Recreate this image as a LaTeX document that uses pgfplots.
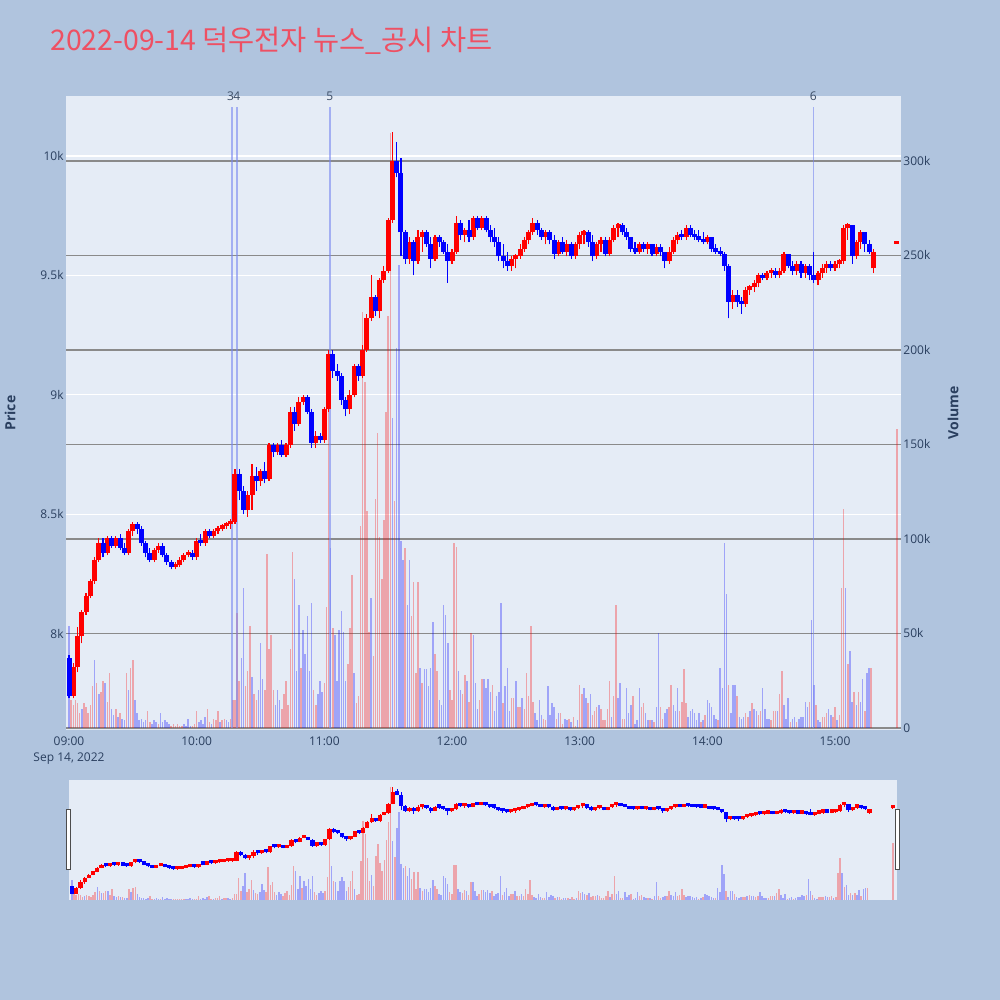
\documentclass[border=0pt]{standalone}
\usepackage{pgfplots}
\pgfplotsset{compat=1.18}
\usepackage{pgfplotstable}
\usepackage{fontspec}
\setmainfont{Open Sans}
\newfontfamily\cjk{Noto Sans CJK KR}
\definecolor{pagebg}{HTML}{B0C4DE}
\definecolor{plotbg}{HTML}{E5ECF6}
\definecolor{tickcol}{HTML}{2A3F5F}
\definecolor{titlecol}{HTML}{EE5063}
\definecolor{upc}{HTML}{FF0000}
\definecolor{dnc}{HTML}{0000FF}
\definecolor{newsc}{RGB}{120,135,240}
\definecolor{vgrid}{HTML}{8A8A8A}

\pgfplotstableread{
t o h l c
0 7900 7910 7730 7740
2 7740 7880 7730 7860
4 7860 8030 7840 7990
6 7990 8100 7960 8090
8 8090 8170 8080 8160
10 8160 8230 8150 8220
12 8220 8320 8210 8310
14 8310 8400 8300 8380
16 8380 8400 8320 8340
18 8340 8410 8330 8400
20 8400 8410 8360 8370
22 8370 8410 8360 8400
24 8400 8420 8350 8360
26 8360 8380 8330 8340
28 8340 8440 8330 8430
30 8430 8470 8410 8460
32 8460 8470 8420 8440
34 8440 8450 8370 8380
36 8380 8390 8320 8340
38 8340 8360 8300 8310
40 8310 8360 8300 8350
42 8350 8380 8340 8370
44 8370 8380 8320 8330
46 8330 8340 8290 8300
48 8300 8310 8270 8280
50 8280 8300 8270 8290
52 8290 8320 8280 8310
54 8310 8340 8300 8330
56 8330 8350 8320 8340
58 8340 8350 8310 8320
60 8320 8400 8310 8390
62 8390 8420 8370 8380
64 8380 8440 8370 8430
66 8430 8440 8400 8410
68 8410 8440 8400 8430
70 8430 8450 8420 8440
72 8440 8460 8430 8450
74 8450 8470 8440 8460
76 8460 8480 8440 8470
78 8470 8690 8460 8670
80 8670 8690 8560 8600
82 8600 8620 8500 8520
84 8520 8600 8490 8580
86 8580 8710 8520 8660
88 8660 8700 8600 8640
90 8640 8690 8620 8680
92 8680 8720 8630 8650
94 8650 8800 8640 8790
96 8790 8800 8740 8760
98 8760 8800 8750 8790
100 8790 8810 8740 8750
102 8750 8800 8740 8790
104 8790 8950 8780 8930
106 8930 8950 8850 8880
108 8880 8990 8870 8970
110 8970 9000 8960 8990
112 8990 9000 8920 8930
114 8930 8940 8780 8800
116 8800 8850 8780 8830
118 8830 8840 8800 8810
120 8810 8950 8800 8940
122 8940 9190 8930 9170
124 9170 9190 9070 9100
126 9100 9130 9060 9080
128 9080 9090 8960 8980
130 8980 8990 8910 8940
132 8940 9020 8920 9000
134 9000 9130 8990 9120
136 9120 9130 9060 9080
138 9080 9210 9070 9190
140 9190 9340 9180 9320
142 9320 9500 9310 9410
144 9410 9420 9330 9350
146 9350 9490 9320 9480
148 9480 9540 9470 9520
150 9520 9740 9510 9730
152 9730 10100 9720 9980
154 9980 10060 9910 9930
156 9930 9990 9580 9680
158 9680 9690 9550 9570
160 9570 9660 9550 9640
162 9640 9650 9500 9560
164 9560 9690 9550 9660
166 9660 9690 9600 9680
168 9680 9690 9620 9630
170 9630 9660 9530 9570
172 9570 9670 9560 9660
174 9660 9670 9620 9640
176 9640 9650 9590 9600
178 9600 9630 9470 9560
180 9560 9610 9550 9600
182 9600 9750 9590 9720
184 9720 9730 9650 9670
186 9670 9700 9640 9690
188 9690 9730 9640 9660
190 9660 9750 9650 9740
192 9740 9750 9690 9700
194 9700 9750 9690 9740
196 9740 9750 9680 9690
198 9690 9710 9640 9660
200 9660 9700 9620 9640
202 9640 9660 9560 9580
204 9580 9630 9530 9560
206 9560 9600 9520 9540
208 9540 9580 9520 9570
210 9570 9590 9530 9580
212 9580 9630 9570 9610
214 9610 9660 9600 9650
216 9650 9690 9630 9680
218 9680 9740 9670 9720
220 9720 9730 9670 9690
222 9690 9700 9650 9660
224 9660 9690 9630 9680
226 9680 9690 9630 9650
228 9650 9670 9570 9590
230 9590 9650 9580 9640
232 9640 9660 9590 9600
234 9600 9650 9580 9630
236 9630 9640 9570 9580
238 9580 9640 9570 9630
240 9630 9680 9610 9670
242 9670 9690 9630 9680
244 9680 9690 9620 9640
246 9640 9670 9560 9580
248 9580 9640 9570 9630
250 9630 9660 9600 9650
252 9650 9660 9580 9590
254 9590 9660 9580 9650
256 9650 9710 9640 9700
258 9700 9720 9660 9710
260 9710 9720 9670 9680
262 9680 9700 9650 9660
264 9660 9660 9600 9610
266 9610 9640 9590 9600
268 9600 9640 9590 9630
270 9630 9640 9600 9610
272 9610 9640 9590 9630
274 9630 9630 9580 9590
276 9590 9630 9580 9620
278 9620 9630 9580 9600
280 9600 9600 9530 9560
282 9560 9620 9550 9600
284 9600 9660 9590 9650
286 9650 9680 9630 9670
288 9670 9690 9650 9660
290 9660 9710 9650 9700
292 9700 9710 9660 9670
294 9670 9690 9650 9660
296 9660 9690 9640 9650
298 9650 9680 9630 9640
300 9640 9670 9630 9660
302 9660 9660 9600 9610
304 9610 9630 9590 9600
306 9600 9620 9580 9590
308 9590 9600 9520 9540
310 9540 9550 9320 9390
312 9390 9440 9360 9420
314 9420 9440 9370 9390
316 9390 9410 9340 9380
318 9380 9450 9370 9440
320 9440 9460 9420 9450
322 9450 9480 9430 9470
324 9470 9510 9450 9500
326 9500 9510 9480 9490
328 9490 9520 9480 9510
330 9510 9530 9490 9520
332 9520 9530 9490 9500
334 9500 9530 9490 9520
336 9520 9600 9510 9590
338 9590 9590 9530 9540
340 9540 9560 9500 9520
342 9520 9560 9500 9550
344 9550 9560 9490 9510
346 9510 9550 9490 9540
348 9540 9550 9480 9500
350 9500 9600 9470 9480
352 9480 9520 9460 9510
354 9510 9550 9490 9530
356 9530 9560 9510 9550
358 9550 9560 9520 9530
360 9530 9560 9520 9550
362 9550 9570 9530 9560
364 9560 9710 9550 9700
366 9700 9720 9650 9710
368 9710 9710 9550 9580
370 9580 9650 9570 9640
372 9640 9690 9610 9680
374 9680 9680 9600 9630
376 9630 9650 9590 9600
378 9530 9610 9510 9600
389 9632 9642 9632 9640
}\candles

\pgfplotstableread[row sep=\\]{t v u\\
0 54 0\\ 1 15 1\\ 2 12 1\\ 3 15 1\\ 4 13 1\\ 5 8 1\\ 6 10 0\\ 7 13 1\\ 8 11 1\\ 9 8 1\\
10 12 1\\ 11 22 1\\ 12 36 0\\ 13 24 1\\ 14 18 0\\ 15 19 1\\ 16 25 1\\ 17 24 0\\ 18 14 1\\ 19 29 1\\
20 10 0\\ 21 7 0\\ 22 10 1\\ 23 6 0\\ 24 8 1\\ 25 5 0\\ 26 4 0\\ 27 29 1\\ 28 20 0\\ 29 32 1\\
30 36 1\\ 31 15 0\\ 32 8 0\\ 33 4 0\\ 34 5 0\\ 35 3 0\\ 36 4 0\\ 37 9 1\\ 38 3 1\\ 39 2 0\\
40 4 0\\ 41 3 0\\ 42 2 1\\ 43 8 0\\ 44 3 0\\ 45 4 0\\ 46 3 0\\ 47 2 0\\ 48 1 1\\ 49 2 1\\
50 1 1\\ 51 2 1\\ 52 1 1\\ 53 1 1\\ 54 2 0\\ 55 1 0\\ 56 5 0\\ 57 1 0\\ 58 1 1\\ 59 2 1\\
60 9 1\\ 61 3 0\\ 62 4 0\\ 63 2 0\\ 64 6 0\\ 65 10 1\\ 66 3 1\\ 67 2 0\\ 68 5 1\\ 69 4 1\\
70 9 1\\ 71 3 0\\ 72 4 1\\ 73 5 1\\ 74 4 0\\ 75 3 0\\ 76 5 1\\ 77 15 1\\ 78 15 1\\ 79 61 1\\
80 25 1\\ 81 37 0\\ 82 74 0\\ 83 22 1\\ 84 30 1\\ 85 54 1\\ 86 27 0\\ 87 18 1\\ 88 15 1\\ 89 20 0\\
90 45 0\\ 91 26 0\\ 92 20 1\\ 93 92 1\\ 94 42 1\\ 95 49 1\\ 96 20 1\\ 97 12 0\\ 98 20 0\\ 99 15 0\\
100 10 1\\ 101 18 1\\ 102 25 1\\ 103 12 1\\ 104 42 1\\ 105 93 1\\ 106 79 0\\ 107 30 0\\ 108 65 0\\ 109 32 1\\
110 52 0\\ 111 39 0\\ 112 59 0\\ 113 30 0\\ 114 66 0\\ 115 20 1\\ 116 12 1\\ 117 18 0\\ 118 25 0\\ 119 19 0\\
120 24 1\\ 121 64 1\\ 122 175 1\\ 123 95 0\\ 124 53 1\\ 125 49 0\\ 126 25 0\\ 127 52 0\\ 128 62 0\\ 129 51 0\\
130 25 0\\ 131 34 1\\ 132 53 1\\ 133 81 1\\ 134 29 0\\ 135 13 1\\ 136 17 1\\ 137 107 1\\ 138 220 1\\ 139 183 1\\
140 115 1\\ 141 51 1\\ 142 69 0\\ 143 38 1\\ 144 121 1\\ 145 156 1\\ 146 101 1\\ 147 79 1\\ 148 110 1\\ 149 167 1\\
150 218 1\\ 151 315 1\\ 152 164 0\\ 153 120 1\\ 154 201 0\\ 155 245 0\\ 156 99 0\\ 157 89 0\\ 158 95 1\\ 159 65 0\\
160 89 0\\ 161 59 1\\ 162 77 1\\ 163 29 1\\ 164 77 1\\ 165 32 0\\ 166 24 1\\ 167 31 0\\ 168 31 0\\ 169 22 0\\
170 32 0\\ 171 56 0\\ 172 39 1\\ 173 30 1\\ 174 15 0\\ 175 12 0\\ 176 65 0\\ 177 60 0\\ 178 45 0\\ 179 20 1\\
180 15 1\\ 181 98 1\\ 182 96 1\\ 183 30 0\\ 184 20 0\\ 185 18 1\\ 186 28 1\\ 187 25 0\\ 188 14 1\\ 189 50 1\\
190 49 0\\ 191 24 0\\ 192 10 0\\ 193 15 1\\ 194 26 1\\ 195 26 0\\ 196 21 0\\ 197 26 0\\ 198 19 0\\ 199 23 1\\
200 9 0\\ 201 17 0\\ 202 19 0\\ 203 66 0\\ 204 13 1\\ 205 22 0\\ 206 32 0\\ 207 9 0\\ 208 16 1\\ 209 16 1\\
210 25 0\\ 211 11 1\\ 212 11 1\\ 213 16 0\\ 214 10 1\\ 215 29 1\\ 216 17 1\\ 217 54 1\\ 218 14 1\\ 219 8 0\\
220 4 0\\ 221 15 0\\ 222 7 0\\ 223 5 1\\ 224 4 1\\ 225 22 0\\ 226 7 0\\ 227 13 0\\ 228 11 0\\ 229 5 1\\
230 8 0\\ 231 8 1\\ 232 2 1\\ 233 5 0\\ 234 4 0\\ 235 5 1\\ 236 3 0\\ 237 6 1\\ 238 1 1\\ 239 4 0\\
240 23 1\\ 241 18 1\\ 242 21 0\\ 243 16 0\\ 244 13 1\\ 245 18 0\\ 246 7 1\\ 247 9 1\\ 248 11 1\\ 249 12 0\\
250 10 1\\ 251 4 1\\ 252 4 1\\ 253 10 1\\ 254 25 1\\ 255 6 0\\ 256 17 1\\ 257 65 1\\ 258 16 0\\ 259 24 0\\
260 5 1\\ 261 5 1\\ 262 21 0\\ 263 8 0\\ 264 12 0\\ 265 17 1\\ 266 2 0\\ 267 4 0\\ 268 21 0\\ 269 11 1\\
270 13 1\\ 271 8 0\\ 272 4 0\\ 273 4 1\\ 274 4 0\\ 275 3 1\\ 276 11 0\\ 277 50 0\\ 278 11 1\\ 279 5 1\\
280 8 0\\ 281 10 0\\ 282 11 1\\ 283 23 1\\ 284 12 0\\ 285 9 0\\ 286 21 0\\ 287 9 1\\ 288 14 1\\ 289 31 1\\
290 13 1\\ 291 6 0\\ 292 9 0\\ 293 10 0\\ 294 8 0\\ 295 4 0\\ 296 8 0\\ 297 3 1\\ 298 4 0\\ 299 7 1\\
300 15 0\\ 301 13 0\\ 302 11 0\\ 303 7 0\\ 304 5 0\\ 305 4 1\\ 306 32 0\\ 307 21 0\\ 308 98 0\\ 309 71 0\\
310 23 1\\ 311 8 0\\ 312 23 0\\ 313 23 0\\ 314 17 1\\ 315 6 0\\ 316 5 0\\ 317 6 0\\ 318 8 1\\ 319 6 1\\
320 9 0\\ 321 13 1\\ 322 10 0\\ 323 9 0\\ 324 7 1\\ 325 9 1\\ 326 21 0\\ 327 10 0\\ 328 5 0\\ 329 5 0\\
330 4 1\\ 331 9 1\\ 332 9 1\\ 333 9 0\\ 334 18 1\\ 335 30 1\\ 336 12 0\\ 337 5 0\\ 338 16 0\\ 339 3 1\\
340 5 0\\ 341 6 0\\ 342 3 1\\ 343 5 0\\ 344 6 0\\ 345 6 0\\ 346 14 0\\ 347 11 0\\ 348 14 1\\ 349 57 0\\
350 23 0\\ 351 12 1\\ 352 4 0\\ 353 3 0\\ 354 6 1\\ 355 6 1\\ 356 8 1\\ 357 10 0\\ 358 7 0\\ 359 6 1\\
360 11 1\\ 361 4 0\\ 362 7 1\\ 363 74 1\\ 364 116 1\\ 365 74 0\\ 366 34 1\\ 367 41 0\\ 368 14 0\\ 369 19 1\\
370 12 0\\ 371 19 1\\ 372 14 0\\ 373 26 0\\ 374 9 1\\ 375 29 0\\ 376 32 0\\ 377 32 1\\ 389 158 1\\
}\vols

\newcommand{\bodyw}{2.5pt}
\newcommand{\wickw}{0.55pt}
\newcommand{\minbody}{14}
\newcommand{\tickfont}{\fontsize{6}{8}\selectfont}
\pgfplotsset{
  candlebody/.style 2 args={only marks, mark=*, mark size=0pt, mark options={draw=none, fill=none}, #1,
    restrict expr to domain={\thisrow{c}-\thisrow{o}}{#2},
    error bars/.cd, y dir=plus, y explicit, error mark=none,
    error bar style={line width=\bodyw, #1}},
  candlewick/.style 2 args={only marks, mark=*, mark size=0pt, mark options={draw=none, fill=none}, #1,
    restrict expr to domain={\thisrow{c}-\thisrow{o}}{#2},
    error bars/.cd, y dir=plus, y explicit, error mark=none,
    error bar style={line width=\wickw, #1}},
  volbar/.style 2 args={ycomb, mark=none, line width=0.75pt, #1, opacity=0.3,
    restrict expr to domain={\thisrow{u}}{#2}},
}

\begin{document}
\begin{tikzpicture}
\fill[pagebg] (0pt,0pt) rectangle (500pt,500pt);
\useasboundingbox (0pt,0pt) rectangle (500pt,500pt);

% ---------- main: background and price grid ----------
\begin{axis}[at={(33pt,135pt)}, anchor=south west, scale only axis,
  width=417.5pt, height=317pt,
  xmin=-1.41, xmax=391, ymin=7598, ymax=10251,
  scaled ticks=false,
  axis line style={draw=none}, major tick length=0pt,
  axis background/.style={fill=plotbg},
  ymajorgrids, major grid style={white, line width=0.55pt},
  ytick={8000,8500,9000,9500,10000}, yticklabels={8k,8.5k,9k,9.5k,10k},
  xtick={0,60,120,180,240,300,360},
  xticklabels={{09:00\\Sep 14, 2022},10:00,11:00,12:00,13:00,14:00,15:00},
  tick label style={font=\tickfont, text=tickcol},
  xticklabel style={align=center, inner sep=1pt, yshift=-2pt},
  yticklabel style={inner xsep=1pt},
  ylabel={Price},
  every axis y label/.style={at={(axis description cs:-0.067,0.5)}, rotate=90, anchor=center,
    font=\fontsize{7}{8}\selectfont\bfseries, text=tickcol},
]
\end{axis}

% ---------- main: volume ----------
\begin{axis}[at={(33pt,135pt)}, anchor=south west, scale only axis,
  width=417.5pt, height=317pt,
  xmin=-1.41, xmax=391, ymin=-1.06, ymax=334.4,
  scaled ticks=false,
  axis line style={draw=none}, major tick length=0pt,
  xtick=\empty,
  ymajorgrids, major grid style={vgrid, line width=0.7pt},
  ytick={0,50,100,150,200,250,300}, yticklabels={0,50k,100k,150k,200k,250k,300k},
  yticklabel pos=right,
  tick label style={font=\tickfont, text=tickcol},
  yticklabel style={inner xsep=1pt},
  ylabel={Volume},
  every axis y label/.style={at={(axis description cs:1.0623,0.5)}, rotate=90, anchor=center,
    font=\fontsize{7}{8}\selectfont\bfseries, text=tickcol},
]
\addplot[volbar={upc}{0.5:1.5}] table[x=t, y=v] {\vols};
\addplot[volbar={dnc}{-0.5:0.5}] table[x=t, y=v] {\vols};
\end{axis}

% ---------- main: candles and news ----------
\begin{axis}[at={(33pt,135pt)}, anchor=south west, scale only axis,
  width=417.5pt, height=317pt,
  xmin=-1.41, xmax=391, ymin=7598, ymax=10251,
  hide axis, clip=false]
\addplot[newsc, line width=0.8pt, opacity=0.6] coordinates {(76.46,7607) (76.46,10205)};
\addplot[newsc, line width=0.8pt, opacity=0.6] coordinates {(78.81,7607) (78.81,10205)};
\addplot[newsc, line width=0.8pt, opacity=0.6] coordinates {(122.52,7607) (122.52,10205)};
\addplot[newsc, line width=0.8pt, opacity=0.6] coordinates {(349.8,7607) (349.8,10205)};
\addplot[candlewick={upc}{0:100000}] table[x=t, y=l, y error expr={\thisrow{h}-\thisrow{l}}] {\candles};
\addplot[candlewick={dnc}{-100000:-0.5}] table[x=t, y=l, y error expr={\thisrow{h}-\thisrow{l}}] {\candles};
\addplot[candlebody={upc}{0:100000}] table[x=t, y expr={min(\thisrow{o},\thisrow{c})}, y error expr={max(abs(\thisrow{c}-\thisrow{o}),\minbody)}] {\candles};
\addplot[candlebody={dnc}{-100000:-0.5}] table[x=t, y expr={min(\thisrow{o},\thisrow{c})}, y error expr={max(abs(\thisrow{c}-\thisrow{o}),\minbody)}] {\candles};
\node[font=\tickfont, text=tickcol!80!gray, anchor=center, inner sep=0pt] at (axis cs:75.9,10251) {3};
\node[font=\tickfont, text=tickcol!80!gray, anchor=center, inner sep=0pt] at (axis cs:78.9,10251) {4};
\node[font=\tickfont, text=tickcol!80!gray, anchor=center, inner sep=0pt] at (axis cs:122.52,10251) {5};
\node[font=\tickfont, text=tickcol!80!gray, anchor=center, inner sep=0pt] at (axis cs:349.8,10251) {6};
\end{axis}

% ---------- range slider ----------
\renewcommand{\bodyw}{2.1pt}
\renewcommand{\wickw}{0.4pt}
\renewcommand{\minbody}{70}
\begin{axis}[at={(34.5pt,50pt)}, anchor=south west, scale only axis,
  width=414pt, height=60pt,
  xmin=-1.41, xmax=391, ymin=-1.06, ymax=334.4,
  axis line style={draw=none}, xtick=\empty, ytick=\empty,
  axis background/.style={fill=plotbg}]
\addplot[volbar={upc}{0.5:1.5}] table[x=t, y=v] {\vols};
\addplot[volbar={dnc}{-0.5:0.5}] table[x=t, y=v] {\vols};
\end{axis}
\begin{axis}[at={(34.5pt,50pt)}, anchor=south west, scale only axis,
  width=414pt, height=60pt,
  xmin=-1.41, xmax=391, ymin=7598, ymax=10251,
  hide axis]
\addplot[candlewick={upc}{0:100000}] table[x=t, y=l, y error expr={\thisrow{h}-\thisrow{l}}] {\candles};
\addplot[candlewick={dnc}{-100000:-0.5}] table[x=t, y=l, y error expr={\thisrow{h}-\thisrow{l}}] {\candles};
\addplot[candlebody={upc}{0:100000}] table[x=t, y expr={min(\thisrow{o},\thisrow{c})}, y error expr={max(abs(\thisrow{c}-\thisrow{o}),\minbody)}] {\candles};
\addplot[candlebody={dnc}{-100000:-0.5}] table[x=t, y expr={min(\thisrow{o},\thisrow{c})}, y error expr={max(abs(\thisrow{c}-\thisrow{o}),\minbody)}] {\candles};
\end{axis}
\draw[fill=white, draw=black!70, line width=0.5pt] (33.2pt,65pt) rectangle (35.3pt,95pt);
\draw[fill=white, draw=black!70, line width=0.5pt] (447.6pt,65pt) rectangle (449.7pt,95pt);

% ---------- title ----------
\node[anchor=base west, text=titlecol, font=\cjk\fontsize{14.2}{16}\selectfont, inner sep=0pt]
  at (25pt,474.5pt) {2022-09-14 덕우전자 뉴스\_공시 차트};
\end{tikzpicture}
\end{document}
